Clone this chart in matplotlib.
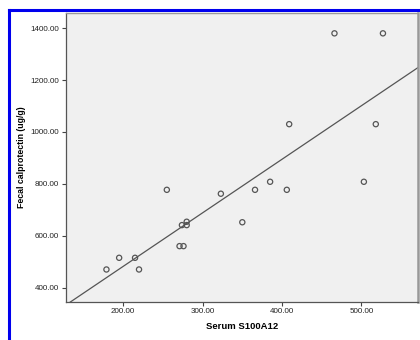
import numpy as np
import matplotlib
matplotlib.use("Agg")
import matplotlib.pyplot as plt

plt.rcParams['font.family'] = ['Liberation Sans', 'DejaVu Sans']

# serum S100A12 vs fecal calprotectin
serum = [466, 527, 409, 518, 255, 271, 276, 274, 280, 280,
         195, 215, 179, 220, 323, 366, 385, 406, 350, 503]
calpro = [1380, 1380, 1030, 1030, 777, 560, 560, 641, 641, 654,
          515, 515, 470, 470, 762, 777, 808, 777, 652, 808]

x_ticks = [200, 300, 400, 500]
y_ticks = [400, 600, 800, 1000, 1200, 1400]

fig = plt.figure(figsize=(4.2, 3.4), dpi=100)
ax = fig.add_axes([0.156, 0.112, 0.839, 0.851])
ax.set_facecolor('#f0f0f0')

# blue frame of the exported image
fig.add_artist(plt.Line2D([0.021, 0.021], [0.0, 0.972], color='#0000ee', lw=2.2,
                          transform=fig.transFigure))
fig.add_artist(plt.Line2D([0.021, 1.0], [0.972, 0.972], color='#0000ee', lw=2.2,
                          transform=fig.transFigure))

ax.scatter(serum, calpro, s=14, facecolors='none', edgecolors='#555555',
           linewidths=0.9, zorder=3)

# linear fit
slope, intercept = np.polyfit(serum, calpro, 1)
xl = np.array([100, 600])
ax.plot(xl, intercept + slope * xl, color='#555555', lw=0.9, zorder=2)

ax.set_xlim(127.5, 571)
ax.set_ylim(345, 1460)
ax.set_xticks(x_ticks)
ax.set_yticks(y_ticks)
ax.set_xticklabels(['%.2f' % v for v in x_ticks])
ax.set_yticklabels(['%.2f' % v for v in y_ticks])
ax.tick_params(labelsize=5.8, length=3, width=0.8, color='#444444', pad=1.5,
               labelcolor='#222222')

for s in ['left', 'bottom']:
    ax.spines[s].set_color('#555555')
    ax.spines[s].set_linewidth(0.9)
ax.spines['top'].set_color('#999999')
ax.spines['top'].set_linewidth(1.0)
ax.spines['right'].set_color('#999999')
ax.spines['right'].set_linewidth(1.8)

ax.set_xlabel('Serum S100A12', fontsize=6.8, fontweight='bold', labelpad=5)
ax.set_ylabel('Fecal calprotectin (ug/g)', fontsize=6.3, fontweight='bold', labelpad=3)

fig.savefig('out.png', dpi=100)
